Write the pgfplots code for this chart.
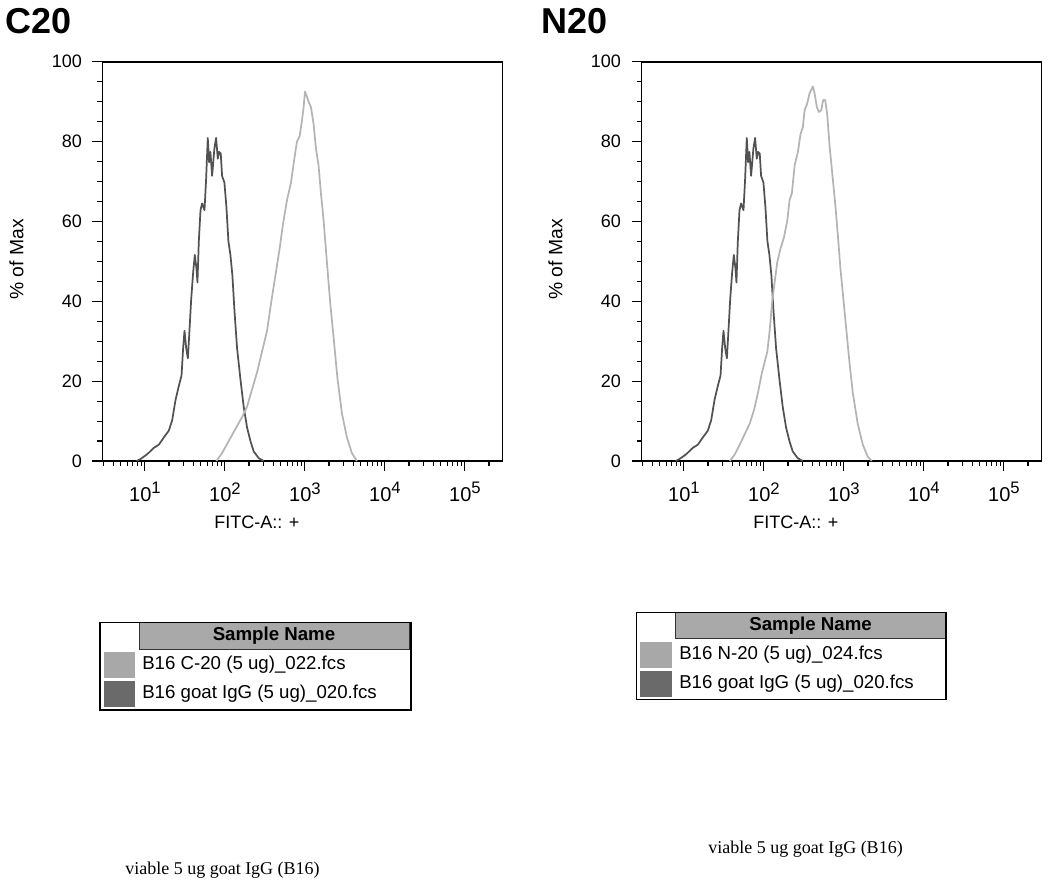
\documentclass[border=0pt]{standalone}
\usepackage{pgfplots}
\usepackage{pgfplotstable}
\pgfplotsset{compat=1.18}
\usepackage{fontspec}
\setmainfont{Liberation Sans}
\newfontfamily\serifft{Liberation Serif}
\definecolor{darkc}{HTML}{525252}
\definecolor{lightc}{HTML}{B4B4B4}
\definecolor{hdr}{HTML}{A9A9A9}
\definecolor{sw1}{HTML}{A8A8A8}
\definecolor{sw2}{HTML}{6A6A6A}

\pgfplotstableread{
lx y
0.896 0
0.946 0.5
1.029 1.7
1.112 3.3
1.175 4.1
1.237 5.9
1.299 7.6
1.341 10.2
1.383 15.3
1.424 18.8
1.458 21.4
1.478 28.3
1.495 32.6
1.516 28.3
1.537 25.7
1.557 32.6
1.578 40.3
1.603 47.2
1.624 51.6
1.645 48.1
1.657 44.7
1.674 55.0
1.695 62.8
1.715 64.5
1.745 62.8
1.765 70.5
1.786 80.9
1.803 74.8
1.819 77.4
1.840 71.4
1.869 78.3
1.890 80.9
1.911 75.7
1.928 77.4
1.948 77.0
1.965 71.4
1.994 69.7
2.019 63.6
2.044 55.0
2.069 51.6
2.094 46.4
2.119 37.8
2.152 28.3
2.194 20.5
2.235 13.6
2.277 8.4
2.319 5.0
2.360 2.4
2.423 0.7
2.485 0
}\darkdata

\pgfplotstableread{
lx y
1.894 0
1.965 2.0
2.048 5.0
2.131 8.0
2.215 11.0
2.277 13.6
2.339 17.9
2.402 22.2
2.464 27.4
2.527 32.6
2.577 39.5
2.631 46.4
2.685 53.3
2.726 59.3
2.776 65.3
2.826 69.7
2.868 75.7
2.901 80.0
2.934 81.3
2.963 85.2
2.984 88.6
3.001 92.5
3.026 91.2
3.047 89.9
3.076 88.6
3.109 84.3
3.138 78.3
3.171 74.0
3.200 67.1
3.234 60.2
3.275 49.8
3.317 39.5
3.359 30.9
3.408 20.5
3.463 11.9
3.525 5.9
3.587 2.0
3.650 0
}\cdata

\pgfplotstableread{
lx y
1.573 0
1.635 1.6
1.698 4.1
1.760 6.7
1.822 9.3
1.877 12.8
1.926 17.1
1.976 22.2
2.010 24.8
2.043 27.4
2.072 32.6
2.101 39.5
2.134 44.7
2.167 49.8
2.209 53.3
2.251 56.0
2.292 60.2
2.321 65.3
2.350 67.1
2.384 74.0
2.425 77.4
2.458 81.9
2.487 83.6
2.508 87.8
2.541 89.5
2.571 92.1
2.612 93.8
2.633 92.1
2.662 88.6
2.687 87.4
2.716 87.8
2.741 90.4
2.766 90.4
2.791 86.9
2.820 79.1
2.862 70.5
2.895 63.6
2.924 56.7
2.957 48.1
2.986 42.1
3.028 33.4
3.069 24.8
3.111 17.1
3.173 9.3
3.236 4.1
3.298 1.1
3.348 0
}\ndata

\newcommand{\dec}[1]{10\raisebox{0.75ex}{\fontsize{12.5}{12.5}\selectfont #1}}

\pgfplotsset{flowax/.style={
  scale only axis, width=300pt, height=299.5pt,
  xmin=0.47, xmax=5.47, ymin=0, ymax=100,
  axis line style={line width=1.4pt},
  xtick={1,2,3,4,5},
  xticklabels={\dec{1},\dec{2},\dec{3},\dec{4},\dec{5}},
  minor xtick={0.4771,0.6021,0.6990,0.7782,0.8451,0.9031,0.9542,
    1.3010,1.4771,1.6021,1.6990,1.7782,1.8451,1.9031,1.9542,
    2.3010,2.4771,2.6021,2.6990,2.7782,2.8451,2.9031,2.9542,
    3.3010,3.4771,3.6021,3.6990,3.7782,3.8451,3.9031,3.9542,
    4.3010,4.4771,4.6021,4.6990,4.7782,4.8451,4.9031,4.9542,
    5.3010},
  ytick={0,20,40,60,80,100},
  minor y tick num=3,
  tick align=outside, tick pos=left,
  major tick length=7.5pt, minor tick length=3.75pt,
  every tick/.style={black, line width=0.8pt},
  every tick label/.append style={font=\fontsize{13.5}{16}\selectfont},
  xticklabel style={font=\fontsize{15}{17}\selectfont, yshift=-5pt},
  yticklabel style={xshift=-4.5pt},
  /pgf/number format/assume math mode=true,
  xlabel={FITC-A:: +}, ylabel={\% of Max},
  xlabel style={at={(axis description cs:0.386,-0.153)}, anchor=center, font=\fontsize{13.5}{16}\selectfont},
  ylabel style={at={(axis description cs:-0.215,0.505)}, anchor=center, font=\fontsize{14.5}{16}\selectfont},
  clip=false,
}}

\begin{document}
\begin{tikzpicture}
\path (0,0) rectangle (787.5pt,665.25pt);

\begin{axis}[flowax, at={(76.875pt,319.5pt)}, anchor=south west]
\addplot[darkc, line width=1.3pt, line join=round] table[x=lx,y=y]{\darkdata};
\addplot[lightc, line width=1.3pt, line join=round] table[x=lx,y=y]{\cdata};
\end{axis}

\begin{axis}[flowax, at={(481.125pt,319.5pt)}, anchor=south west]
\addplot[darkc, line width=1.3pt, line join=round] table[x=lx,y=y]{\darkdata};
\addplot[lightc, line width=1.3pt, line join=round] table[x=lx,y=y]{\ndata};
\end{axis}

% titles
\node[anchor=base west, inner sep=0pt, font=\fontsize{27}{30}\selectfont\bfseries] at (3.75pt,639.75pt) {C20};
\node[anchor=base west, inner sep=0pt, font=\fontsize{27}{30}\selectfont\bfseries] at (405.75pt,639.75pt) {N20};

% left legend
\fill[hdr] (104.25pt,178.5pt) rectangle (306.75pt,198.2pt);
\draw[gray!40!black, line width=0.6pt] (104.25pt,178.5pt) rectangle (306.75pt,198.2pt);
\fill[sw1] (78pt,156.75pt) rectangle (101.25pt,176.25pt);
\fill[sw2] (78pt,135pt) rectangle (101.25pt,154.5pt);
\draw[black, line width=1pt] (75pt,132.75pt) rectangle (308.25pt,198.2pt);
\node[anchor=center, font=\fontsize{14}{16}\selectfont\bfseries] at (205.5pt,188.25pt) {Sample Name};
\node[anchor=west, inner sep=0pt, font=\fontsize{14}{16}\selectfont] at (106.5pt,166.5pt) {B16 C-20 (5 ug)\_022.fcs};
\node[anchor=west, inner sep=0pt, font=\fontsize{14}{16}\selectfont] at (106.5pt,144.75pt) {B16 goat IgG (5 ug)\_020.fcs};

% right legend
\fill[hdr] (506.25pt,186.5pt) rectangle (709.5pt,206pt);
\draw[gray!40!black, line width=0.6pt] (506.25pt,186.5pt) rectangle (709.5pt,206pt);
\fill[sw1] (480pt,164pt) rectangle (503.8pt,184pt);
\fill[sw2] (480pt,142.7pt) rectangle (503.8pt,162.2pt);
\draw[black, line width=1pt] (477.5pt,140.8pt) rectangle (709.5pt,206pt);
\node[anchor=center, font=\fontsize{14}{16}\selectfont\bfseries] at (607.9pt,196.1pt) {Sample Name};
\node[anchor=west, inner sep=0pt, font=\fontsize{14}{16}\selectfont] at (509.25pt,174pt) {B16 N-20 (5 ug)\_024.fcs};
\node[anchor=west, inner sep=0pt, font=\fontsize{14}{16}\selectfont] at (509.25pt,152.25pt) {B16 goat IgG (5 ug)\_020.fcs};

% footers
\node[anchor=west, inner sep=0pt, font=\serifft\fontsize{13.5}{16}\selectfont] at (93.75pt,12.75pt) {viable 5 ug goat IgG (B16)};
\node[anchor=west, inner sep=0pt, font=\serifft\fontsize{13.5}{16}\selectfont] at (531pt,28.5pt) {viable 5 ug goat IgG (B16)};
\end{tikzpicture}
\end{document}
